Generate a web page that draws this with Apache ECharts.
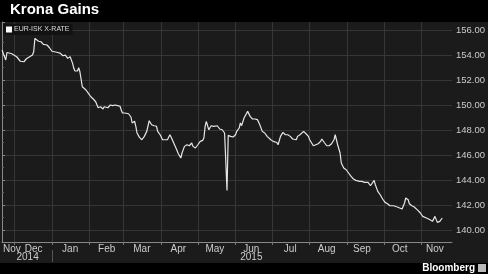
<!DOCTYPE html>
<html><head><meta charset="utf-8">
<script src="https://cdn.jsdelivr.net/npm/echarts@6/dist/echarts.min.js"></script>
<style>html,body{margin:0;padding:0;background:#000}#c{width:488px;height:274px}</style>
</head><body><div id="c"></div>
<script>
const seriesName = 'EUR-ISK X-RATE';
const dates = ['2014-11-21','2014-11-22','2014-11-24','2014-11-25','2014-11-29','2014-12-03','2014-12-06','2014-12-09','2014-12-11','2014-12-16','2014-12-17','2014-12-18','2014-12-19','2014-12-21','2014-12-23','2014-12-25','2014-12-28','2014-12-30',
'2015-01-01','2015-01-03','2015-01-06','2015-01-08','2015-01-10','2015-01-12','2015-01-14','2015-01-15','2015-01-16','2015-01-18','2015-01-19','2015-01-20','2015-01-21','2015-01-22','2015-01-23','2015-01-24','2015-01-26','2015-01-27','2015-01-29','2015-01-31',
'2015-02-02','2015-02-04','2015-02-06','2015-02-08','2015-02-10','2015-02-12','2015-02-13','2015-02-16','2015-02-18','2015-02-20','2015-02-22','2015-02-24','2015-02-26','2015-02-27','2015-02-28',
'2015-03-02','2015-03-05','2015-03-07','2015-03-08','2015-03-10','2015-03-11','2015-03-12','2015-03-14','2015-03-16','2015-03-18','2015-03-20','2015-03-22','2015-03-24','2015-03-26','2015-03-28','2015-03-29','2015-03-31',
'2015-04-02','2015-04-04','2015-04-06','2015-04-08','2015-04-09','2015-04-11','2015-04-13','2015-04-15','2015-04-17','2015-04-18','2015-04-20','2015-04-21','2015-04-22','2015-04-24','2015-04-26','2015-04-27','2015-04-29',
'2015-05-01','2015-05-03','2015-05-05','2015-05-06','2015-05-07','2015-05-08','2015-05-10','2015-05-12','2015-05-14','2015-05-17','2015-05-19','2015-05-21','2015-05-23','2015-05-24','2015-05-25','2015-05-26','2015-05-28','2015-05-30',
'2015-06-01','2015-06-02','2015-06-04','2015-06-05','2015-06-06','2015-06-08','2015-06-11','2015-06-13','2015-06-15','2015-06-17','2015-06-19','2015-06-21','2015-06-23','2015-06-25','2015-06-27','2015-06-30',
'2015-07-02','2015-07-05','2015-07-06','2015-07-08','2015-07-10','2015-07-12','2015-07-14','2015-07-16','2015-07-18','2015-07-21','2015-07-22','2015-07-24','2015-07-27','2015-07-29','2015-07-31',
'2015-08-01','2015-08-04','2015-08-05','2015-08-08','2015-08-10','2015-08-11','2015-08-13','2015-08-15','2015-08-17','2015-08-19','2015-08-21','2015-08-22','2015-08-24','2015-08-26','2015-08-27','2015-08-29','2015-08-31',
'2015-09-02','2015-09-04','2015-09-06','2015-09-08','2015-09-11','2015-09-13','2015-09-15','2015-09-18','2015-09-20','2015-09-21','2015-09-23','2015-09-24','2015-09-26','2015-09-28','2015-09-30',
'2015-10-02','2015-10-04','2015-10-06','2015-10-09','2015-10-12','2015-10-14','2015-10-16','2015-10-18','2015-10-19','2015-10-21','2015-10-22','2015-10-24','2015-10-26','2015-10-29','2015-10-31',
'2015-11-02','2015-11-05','2015-11-08','2015-11-10','2015-11-11','2015-11-12','2015-11-14','2015-11-16','2015-11-18'];
const values = [154.4,154.13,153.6,154.2,154.1,153.86,153.5,153.46,153.7,154.0,154.26,155.33,155.38,155.1,155.06,154.85,154.8,154.58,
154.3,154.26,154.2,154.13,153.94,153.99,153.73,153.7,153.86,153.33,152.93,152.72,152.8,152.72,152.98,152.66,151.46,151.38,151.2,150.93,
150.66,150.48,150.26,149.78,149.86,149.68,149.86,149.78,150.0,149.95,150.0,149.95,149.9,149.6,149.36,
149.36,149.3,149.04,148.56,148.7,148.29,147.76,147.41,147.22,147.49,147.89,148.74,148.42,148.34,148.3,147.89,147.62,
147.22,147.22,147.22,147.62,147.44,147.0,146.56,146.1,145.76,146.16,146.69,146.64,146.82,146.74,146.96,146.69,146.56,
146.82,147.09,147.17,147.36,148.29,148.69,148.02,148.34,148.29,148.34,148.08,148.02,147.76,147.8,143.17,147.57,147.49,147.44,
147.62,147.89,148.16,148.56,148.35,148.96,149.49,149.09,148.88,148.88,148.83,148.42,147.89,147.76,147.49,147.22,
147.09,147.0,146.82,147.49,147.81,147.62,147.62,147.49,147.28,147.22,147.49,147.62,147.89,147.7,147.49,
147.22,146.74,146.9,146.9,147.09,147.28,147.0,146.74,146.74,146.9,147.22,147.62,146.82,146.16,145.36,144.96,144.82,
144.56,144.29,144.08,143.97,143.89,143.89,143.81,143.81,143.54,143.45,143.97,143.62,143.09,142.82,142.48,
142.21,142.1,141.94,141.94,141.84,141.76,141.68,142.16,142.56,142.42,142.1,141.94,141.84,141.57,141.36,
141.09,140.96,140.82,140.69,140.75,141.09,140.61,140.69,140.96];
const axisStart = '2014-11-21';
const axisEnd = '2015-11-26';
const monthStarts = ['2014-12-01','2015-01-01','2015-02-01','2015-03-01','2015-04-01','2015-05-01','2015-06-01','2015-07-01','2015-08-01','2015-09-01','2015-10-01','2015-11-01'];
const monthLabelDates = ['2014-11-29','2014-12-17','2015-01-16','2015-02-15','2015-03-16','2015-04-15','2015-05-15','2015-06-14','2015-07-16','2015-08-15','2015-09-13','2015-10-14','2015-11-12'];
const monthLabels = ['Nov','Dec','Jan','Feb','Mar','Apr','May','Jun','Jul','Aug','Sep','Oct','Nov'];
const yearLabelDates = ['2014-12-12','2015-06-14'];
const yearLabels = ['2014','2015'];
const yearBreaks = ['2015-01-01'];

// day number since axisStart (dates are data; the axis is a linear day scale)
function ts(s){const p=s.split('-').map(Number);return Date.UTC(p[0],p[1]-1,p[2]);}
const t0 = ts(axisStart);
function day(s){return Math.round((ts(s)-t0)/86400000);}
const data = dates.map((d,i)=>[day(d),values[i]]);
const mDays = monthLabelDates.map(day);
const yDays = yearLabelDates.map(day);

const chart = echarts.init(document.getElementById('c'),null,{renderer:'canvas'});
const font = 'Liberation Sans, Arial, sans-serif';
chart.setOption({
  animation:false,
  backgroundColor:'#1b1b1b',
  textStyle:{fontFamily:font},
  graphic:[
    {type:'rect',shape:{x:0,y:0,width:488,height:22},style:{fill:'#000'},z:-1},
    {type:'rect',shape:{x:0,y:263,width:488,height:11},style:{fill:'#000'},z:-1},
    {type:'rect',shape:{x:478,y:264,width:8,height:8},style:{fill:'#bbb'},z:10}
  ],
  title:[
    {text:'Krona Gains',left:10,top:2,padding:0,textStyle:{color:'#fff',fontSize:15,fontWeight:'bold',fontFamily:font}},
    {text:'Bloomberg',right:13,top:263,padding:0,textStyle:{color:'#fff',fontSize:10,fontWeight:'bold',fontFamily:font}}
  ],
  legend:{left:3,top:24,padding:[2,3],itemGap:2,backgroundColor:'#121212',icon:'rect',itemWidth:6,itemHeight:6,
    textStyle:{color:'#ddd',fontSize:7,padding:[0,0,0,-3]},data:[seriesName]},
  grid:{left:0,right:32,top:22,bottom:32,containLabel:false},
  xAxis:[{
    type:'value',min:0,max:day(axisEnd),
    axisLine:{show:true,onZero:false,lineStyle:{color:'#888',width:1}},
    axisTick:{show:true,length:3,customValues:monthStarts.map(day),lineStyle:{color:'#777'}},
    splitLine:{show:true,lineStyle:{color:'#363636',width:1}},
    axisLabel:{customValues:mDays,margin:2,color:'#ccc',fontSize:10,
      formatter:function(v){const i=mDays.indexOf(v);return i>=0?monthLabels[i]:'';}}
  },{
    type:'value',min:0,max:day(axisEnd),position:'bottom',offset:8,
    axisLine:{show:false,onZero:false},
    axisTick:{show:true,length:12,customValues:yearBreaks.map(day),lineStyle:{color:'#555'}},
    splitLine:{show:false},
    axisLabel:{customValues:yDays,margin:2,color:'#ccc',fontSize:10,
      formatter:function(v){const i=yDays.indexOf(v);return i>=0?yearLabels[i]:'';}}
  }],
  yAxis:{
    type:'value',position:'right',min:139.04,max:156.64,minInterval:2,maxInterval:2,splitNumber:9,
    axisLine:{show:true,lineStyle:{color:'#888'}},
    axisTick:{show:true,length:3,lineStyle:{color:'#888'}},
    minorTick:{show:true,splitNumber:2,length:2,lineStyle:{color:'#666'}},
    splitLine:{show:true,showMinLine:false,showMaxLine:false,lineStyle:{color:'#363636'}},
    axisLabel:{margin:4,color:'#ccc',fontSize:9.5,showMinLabel:false,showMaxLabel:false,
      formatter:function(v){return v.toFixed(2);}}
  },
  series:[{
    name:seriesName,type:'line',xAxisIndex:0,data:data,showSymbol:false,
    lineStyle:{color:'#e6e6e6',width:1.2},itemStyle:{color:'#fff'}
  }]
});
</script></body></html>
